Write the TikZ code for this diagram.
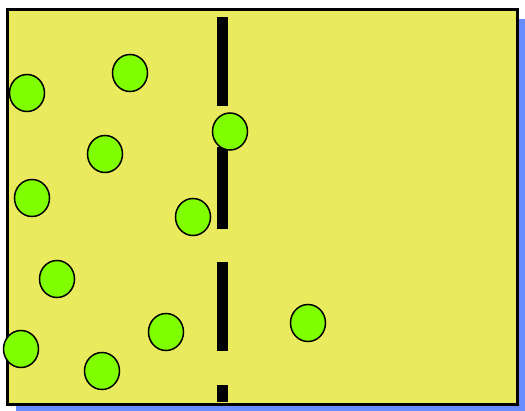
\documentclass[tikz,border=0pt]{standalone}
\usetikzlibrary{shapes.geometric}
\definecolor{boxyellow}{RGB}{233,234,94}
\definecolor{ballgreen}{RGB}{128,255,0}
\definecolor{shadowblue}{RGB}{102,140,255}
\begin{document}
\begin{tikzpicture}[x=1pt,y=-1pt,
  ball/.style={ellipse,draw=black,line width=1.5pt,fill=ballgreen,minimum width=35pt,minimum height=37pt,inner sep=0pt},
  barseg/.style={fill=black}]
\useasboundingbox (0,0) rectangle (525,411);
% shadow
\fill[shadowblue] (16,19) rectangle (525,411);
% box
\draw[fill=boxyellow,line width=3pt] (7.5,9.5) rectangle (517.5,405);
% dashed bar
\fill[barseg] (216.7,17) rectangle (228,106);
\fill[barseg] (216.7,147) rectangle (228,229);
\fill[barseg] (216.7,262) rectangle (228,351);
\fill[barseg] (216.7,385) rectangle (228,402);
% balls
\node[ball] (b1) at (27,93) {};
\node[ball] (b2) at (130,73) {};
\node[ball] (b3) at (105,154) {};
\node[ball] (b4) at (230,131.5) {};
\node[ball] (b5) at (32,198) {};
\node[ball] (b6) at (193,217) {};
\node[ball] (b7) at (57,279) {};
\node[ball] (b8) at (166,332) {};
\node[ball] (b9) at (21,349) {};
\node[ball] (b10) at (102,371) {};
\node[ball] (b11) at (308,323) {};
\end{tikzpicture}
\end{document}
